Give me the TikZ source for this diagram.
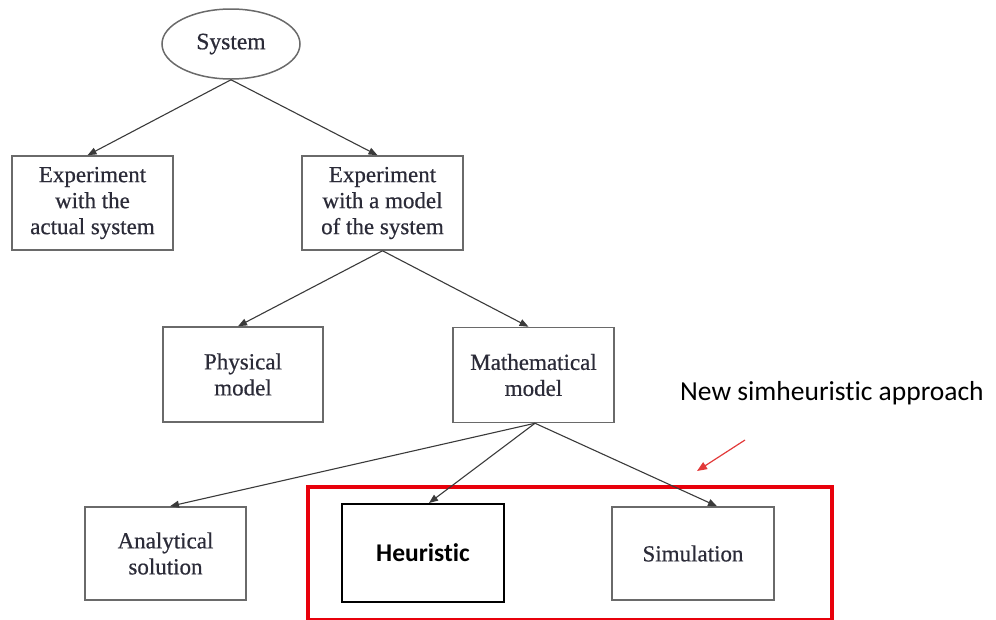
\documentclass[tikz,border=0pt]{standalone}
\usepackage{fontspec}
\setmainfont{Liberation Serif}[FakeBold=0.6]
\newfontfamily\calibri{Carlito}[Ligatures=NoCommon]
\usetikzlibrary{shapes.geometric,arrows.meta}
\definecolor{boxgray}{HTML}{6A6A6A}
\definecolor{txt}{HTML}{2B2B38}
\definecolor{linegray}{HTML}{3A3A3A}
\definecolor{framered}{HTML}{E8000B}
\definecolor{arrowred}{HTML}{E23A3A}

\begin{document}
\begin{tikzpicture}[x=1pt,y=-1pt,
  box/.style={draw=boxgray, line width=1.5pt, rectangle, inner sep=0pt,
    minimum width=161pt, minimum height=94pt, align=center, text=txt,
    font=\fontsize{23}{26}\selectfont},
  flow/.style={draw=linegray, line width=1.1pt,
    -{Triangle[length=9pt,width=7pt]}},
]
\useasboundingbox (0,0) rectangle (996,619);

% root of the tree
\node[ellipse, draw=boxgray, line width=1.5pt, minimum width=138pt,
  minimum height=70pt, inner sep=0pt, text=txt,
  font=\fontsize{23.5}{26}\selectfont] (sys) at (231,44) {System};

% second level
\node[box] (actual) at (92.5,203) {Experiment\\with the\\actual system};
\node[box] (model) at (382.5,203) {Experiment\\with a model\\of the system};

% third level
\node[box, minimum width=160pt, minimum height=95pt] (phys) at (243,374.5) {Physical\\model};
\node[box, minimum height=95pt] (math) at (533.5,375) {Mathematical\\model};

% fourth level
\node[box, minimum height=93pt] (anal) at (165.5,553.5) {Analytical\\solution};
\node[box, draw=black, line width=2pt, minimum width=162pt, minimum height=98pt,
  font=\calibri\bfseries\fontsize{25.5}{28}\selectfont, text=black] (heur) at (423,553) {Heuristic};
\node[box, minimum width=162pt, minimum height=93pt] (sim) at (693,553.5) {Simulation};

% highlight frame around the simheuristic pair
\draw[framered, line width=4pt] (308,487) rectangle (832,620);
\node[anchor=base west, inner sep=0pt, text=black,
  font=\calibri\fontsize{27.5}{30}\selectfont] (label) at (680,400) {New simheuristic approach};
\coordinate (rtail) at (745,440);
\coordinate (rhead) at (697,471);
\draw[arrowred, line width=1.2pt, -{Triangle[length=10pt,width=8pt]}] (rtail) -- (rhead);

% connectors
\draw[flow] (sys.south) -- ([xshift=-5pt]actual.north);
\draw[flow] (sys.south) -- ([xshift=-5pt]model.north);
\draw[flow] (model.south) -- ([xshift=-5pt]phys.north);
\draw[flow] (model.south) -- ([xshift=-5pt]math.north);
\draw[flow] ([xshift=1.5pt]math.south) -- ([xshift=4.5pt]anal.north);
\draw[flow] ([xshift=1.5pt]math.south) -- ([xshift=6pt]heur.north);
\draw[flow] ([xshift=1.5pt]math.south) -- ([xshift=24pt]sim.north);
\end{tikzpicture}
\end{document}
